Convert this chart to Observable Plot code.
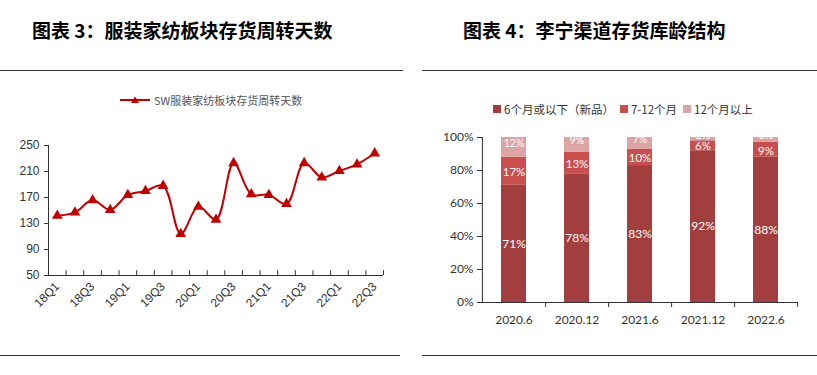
<!DOCTYPE html>
<html><head><meta charset="utf-8">
<script src="https://cdn.jsdelivr.net/npm/d3@7"></script>
<script src="https://cdn.jsdelivr.net/npm/@observablehq/plot@0.6"></script>
<style>
body{margin:0;background:#fff;width:817px;height:375px;position:relative;overflow:hidden;font-family:"Noto Sans CJK SC",sans-serif}
.abs{position:absolute}
.title{font-size:19px;font-weight:bold;color:#000;white-space:nowrap;line-height:20px}
.hr{position:absolute;height:0;border-top:1px solid #333}
.leg{font-size:11px;color:#555;white-space:nowrap;line-height:14px;display:flex;align-items:center}
.sw{display:inline-block;width:8px;height:8px;margin-right:3px}
</style></head><body>
<div class="abs title" style="left:32px;top:20px">图表 3：服装家纺板块存货周转天数</div>
<div class="abs title" style="left:463px;top:20px">图表 4：李宁渠道存货库龄结构</div>
<div class="hr" style="left:0;top:70px;width:403px"></div>
<div class="hr" style="left:422px;top:70px;width:395px"></div>
<div class="hr" style="left:0;top:355px;width:400px"></div>
<div class="hr" style="left:422px;top:355px;width:395px"></div>
<div class="abs leg" id="leg1" style="left:120px;top:93px"></div>
<div class="abs leg" id="leg2" style="left:493px;top:102px;color:#333;font-size:11.5px"></div>
<div class="abs" id="c1" style="left:0;top:120px"></div>
<div class="abs" id="c2" style="left:410px;top:120px"></div>
<script>
const quarters = ["18Q1","18Q2","18Q3","18Q4","19Q1","19Q2","19Q3","19Q4","20Q1","20Q2","20Q3","20Q4","21Q1","21Q2","21Q3","21Q4","22Q1","22Q2","22Q3"];
const turnoverDays = [142,147,166,151,174,180,188,114,156,136,223,175,174,160,223,201,211,221,238];
const seriesName = "SW服装家纺板块存货周转天数";
const yTicksLeft = [50,90,130,170,210,250];

const periods = ["2020.6","2020.12","2021.6","2021.12","2022.6"];
const ageGroups = ["6个月或以下（新品）","7-12个月","12个月以上"];
const shareNew = [71,78,83,92,88];
const share7to12 = [17,13,10,6,9];
const shareOver12 = [12,9,7,2,3];
const yTicksRight = [0,20,40,60,80,100];
const ageColors = ["#a23e3e","#c94f4f","#dca4a4"];
const lineColor = "#c00000";

// Legend 1
document.getElementById("leg1").innerHTML =
  `<svg width="32" height="10" style="margin-right:2px"><line x1="0" y1="5" x2="30" y2="5" stroke="${lineColor}" stroke-width="2"/><path d="M15,1.5 L19,8 L11,8Z" fill="${lineColor}"/></svg><span>${seriesName}</span>`;
// Legend 2
document.getElementById("leg2").innerHTML = ageGroups.map((g,i)=>
  `<span class="sw" style="background:${ageColors[i]}"></span><span style="margin-right:6px">${g}</span>`).join("");

// Chart 1
const chart1 = Plot.plot({
  width: 400, height: 230,
  marginLeft: 48, marginRight: 17, marginTop: 25, marginBottom: 75,
  style: {fontFamily: "'Liberation Sans', Arial, sans-serif", fontSize: "12px", color: "#333", background: "transparent"},
  x: {type: "linear", domain: [-0.5, quarters.length - 0.5], label: null},
  y: {domain: [50, 250], label: null},
  marks: [
    Plot.axisY({ticks: yTicksLeft, tickSize: 4, tickPadding: 5, fontSize: 12, label: null}),
    Plot.axisX({ticks: d3.range(0, quarters.length, 2), tickFormat: i => quarters[i], tickRotate: -45, tickSize: 0, tickPadding: 9, fontSize: 12, label: null}),
    Plot.ruleX(d3.range(1, quarters.length + 1).map(i => i - 0.5), {y1: 50, y2: 57.5, stroke: "#333"}),
    Plot.ruleX([-0.5], {y1: 50, y2: 250, stroke: "#333"}),
    Plot.ruleY([50], {stroke: "#333"}),
    Plot.line(turnoverDays, {x: (d,i) => i, y: d => d, curve: "catmull-rom", stroke: lineColor, strokeWidth: 2}),
    Plot.dot(turnoverDays, {x: (d,i) => i, y: d => d, symbol: "triangle", r: 4, fill: lineColor, stroke: "none"})
  ]
});
document.getElementById("c1").appendChild(chart1);

// Chart 2
const rows = periods.flatMap((p,i) => [
  {period: p, group: ageGroups[0], value: shareNew[i]},
  {period: p, group: ageGroups[1], value: share7to12[i]},
  {period: p, group: ageGroups[2], value: shareOver12[i]}
]);
const W2 = 407, ML2 = 72, MR2 = 19;
const step = (W2 - ML2 - MR2) / periods.length;
const labelFor = g => d => d.group === g ? d.value + "%" : null;
const chart2 = Plot.plot({
  width: W2, height: 230,
  marginLeft: ML2, marginRight: MR2, marginTop: 17, marginBottom: 48,
  style: {fontFamily: "Lato, 'Noto Sans CJK SC', sans-serif", fontSize: "12px", color: "#333", background: "transparent"},
  x: {domain: periods, paddingInner: 0.6, paddingOuter: 0.3, label: null},
  y: {domain: [0, 100], label: null},
  color: {domain: ageGroups, range: ageColors},
  marks: [
    Plot.barY(rows, {x: "period", y: "value", fill: "group"}),
    Plot.text(rows, Plot.stackY({x: "period", y: "value", text: labelFor(ageGroups[0]), fill: "white", fontSize: 12})),
    Plot.text(rows, Plot.stackY({x: "period", y: "value", text: labelFor(ageGroups[1]), fill: "white", fontSize: 11.5, dy: 1})),
    Plot.text(rows, Plot.stackY({x: "period", y: "value", text: labelFor(ageGroups[2]), fill: "white", fontSize: 10.5, dy: -4})),
    Plot.axisY({ticks: yTicksRight, tickFormat: d => d + "%", tickSize: 5, tickPadding: 4, label: null}),
    Plot.axisX({tickSize: 0, tickPadding: 13, fontSize: 12, label: null}),
    Plot.ruleX(periods, {dx: step / 2, y1: 0, y2: -3, stroke: "#333"}),
    Plot.ruleX(periods.slice(0, 1), {dx: -step / 2, y1: 0, y2: 100, stroke: "#333"}),
    Plot.ruleY([0], {stroke: "#333"})
  ]
});
document.getElementById("c2").appendChild(chart2);
</script>
</body></html>
